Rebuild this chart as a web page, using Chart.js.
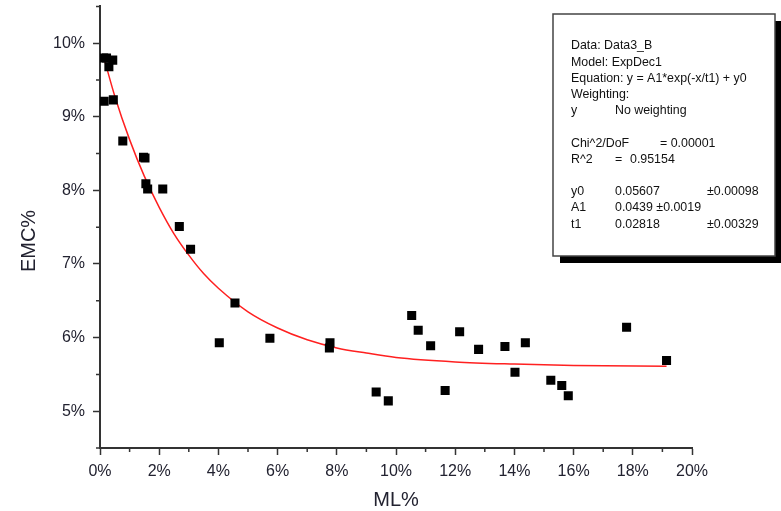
<!DOCTYPE html>
<html>
<head>
<meta charset="utf-8">
<script src="https://cdn.jsdelivr.net/npm/chart.js@4/dist/chart.umd.min.js"></script>
<style>
  html, body { margin: 0; padding: 0; background: #ffffff; }
  #c { display: block; }
</style>
</head>
<body>
<canvas id="c" width="781" height="511"></canvas>
<script>
// ---- data ----
const mlX = [0.12, 0.22, 0.30, 0.43, 0.14, 0.45, 0.77, 1.47, 1.52, 1.55, 1.61, 2.12, 2.68, 3.06,
             4.03, 4.56, 5.74, 7.75, 7.77, 9.33, 9.74, 10.53, 10.75, 11.17, 11.66, 12.15, 12.79,
             13.68, 14.02, 14.37, 15.23, 15.60, 15.82, 17.79, 19.14];
const emcY = [9.80, 9.80, 9.68, 9.77, 9.21, 9.23, 8.67, 8.45, 8.44, 8.09, 8.02, 8.02, 7.51, 7.20,
              5.93, 6.47, 5.99, 5.86, 5.93, 5.26, 5.14, 6.30, 6.10, 5.89, 5.28, 6.08, 5.84,
              5.88, 5.53, 5.93, 5.42, 5.35, 5.21, 6.14, 5.69];
const fitX = [0.14, 0.5, 1, 1.5, 2, 2.5, 3, 3.5, 4, 5, 6, 7, 8, 9, 10, 12, 14, 16, 19.14];
const fitY = [9.79, 9.28, 8.69, 8.19, 7.77, 7.41, 7.12, 6.87, 6.67, 6.35, 6.13, 5.97, 5.86, 5.79, 5.73, 5.67, 5.64, 5.62, 5.61];
const xTicks = [0, 2, 4, 6, 8, 10, 12, 14, 16, 18, 20];
const yTicks = [5, 6, 7, 8, 9, 10];
const xMinor = [1, 3, 5, 7, 9, 11, 13, 15, 17, 19];
const yMinor = [4.5, 5.5, 6.5, 7.5, 8.5, 9.5, 10.5];
const xTitle = 'ML%';
const yTitle = 'EMC%';
const boxLines = [
  ['Data: Data3_B'],
  ['Model: ExpDec1'],
  ['Equation: y = A1*exp(-x/t1) + y0'],
  ['Weighting:'],
  ['y', 'No weighting'],
  [],
  ['Chi^2/DoF', '', '= 0.00001'],
  ['R^2', '=', '0.95154'],
  [],
  ['y0', '0.05607', '', '\u00b10.00098'],
  ['A1', '0.0439 \u00b10.0019'],
  ['t1', '0.02818', '', '\u00b10.00329']
];

const FONT = '"Liberation Sans", Arial, sans-serif';
const AXIS_COLOR = '#333333';
const LABEL_COLOR = '#222230';

const minorTicks = {
  id: 'minorTicks',
  afterDraw(chart) {
    const ctx = chart.ctx;
    const xs = chart.scales.x, ys = chart.scales.y;
    ctx.save();
    ctx.strokeStyle = AXIS_COLOR;
    ctx.lineWidth = 1.5;
    ctx.beginPath();
    xMinor.forEach(v => {
      const px = xs.getPixelForValue(v);
      ctx.moveTo(px, chart.chartArea.bottom);
      ctx.lineTo(px, chart.chartArea.bottom + 4);
    });
    yMinor.forEach(v => {
      const py = ys.getPixelForValue(v);
      ctx.moveTo(chart.chartArea.left, py);
      ctx.lineTo(chart.chartArea.left - 4, py);
    });
    ctx.stroke();
    ctx.restore();
  }
};

const axisTitles = {
  id: 'axisTitles',
  afterDraw(chart) {
    const ctx = chart.ctx;
    ctx.save();
    ctx.fillStyle = LABEL_COLOR;
    ctx.font = '20px ' + FONT;
    ctx.textAlign = 'center';
    ctx.textBaseline = 'middle';
    ctx.fillText(xTitle, 396, 500);
    ctx.translate(29, 241);
    ctx.rotate(-Math.PI / 2);
    ctx.fillText(yTitle, 0, 0);
    ctx.restore();
  }
};

const statsBox = {
  id: 'statsBox',
  afterDraw(chart) {
    const ctx = chart.ctx;
    const L = 553, T = 14, W = 222, H = 242;
    ctx.save();
    ctx.fillStyle = '#000000';
    ctx.fillRect(L + 7, T + 7, W, H);
    ctx.fillStyle = '#ffffff';
    ctx.fillRect(L, T, W, H);
    ctx.strokeStyle = '#444444';
    ctx.lineWidth = 1.5;
    ctx.strokeRect(L, T, W, H);
    ctx.fillStyle = '#111111';
    ctx.font = '12.4px ' + FONT;
    ctx.textBaseline = 'middle';
    ctx.textAlign = 'left';
    const cols = [571, 615, 660, 707];
    boxLines.forEach((parts, i) => {
      const y = 46 + i * 16.2;
      parts.forEach((txt, j) => {
        if (!txt) return;
        let x = cols[j];
        if (parts[0] === 'R^2' && j === 2) x = 630;
        ctx.fillText(txt, x, y);
      });
    });
    ctx.restore();
  }
};

new Chart(document.getElementById('c'), {
  type: 'scatter',
  data: {
    datasets: [
      {
        label: 'Data3_B',
        data: mlX.map((x, i) => ({ x: x, y: emcY[i] })),
        pointStyle: 'rect',
        pointRadius: 6.4,
        pointBorderWidth: 0,
        backgroundColor: '#000000',
        borderColor: '#000000'
      },
      {
        label: 'ExpDec1 fit',
        data: fitX.map((x, i) => ({ x: x, y: fitY[i] })),
        showLine: true,
        pointRadius: 0,
        borderColor: '#ff2020',
        borderWidth: 1.5,
        cubicInterpolationMode: 'monotone'
      }
    ]
  },
  options: {
    responsive: false,
    animation: false,
    layout: { padding: { left: 0, right: 89, top: 5, bottom: 0 } },
    plugins: { legend: { display: false }, tooltip: { enabled: false } },
    scales: {
      x: {
        type: 'linear',
        min: 0, max: 20,
        afterBuildTicks: a => { a.ticks = xTicks.map(v => ({ value: v })); },
        afterFit: s => { s.height = 63; s.paddingLeft = 0; s.paddingRight = 0; },
        ticks: {
          callback: v => v + '%',
          font: { family: FONT, size: 16 },
          color: LABEL_COLOR,
          padding: 7,
          maxRotation: 0,
          autoSkip: false
        },
        grid: { drawOnChartArea: false, drawTicks: true, tickLength: 7, tickColor: AXIS_COLOR, tickWidth: 1.5 },
        border: { color: AXIS_COLOR, width: 2 }
      },
      y: {
        type: 'linear',
        min: 4.5, max: 10.5,
        afterBuildTicks: a => { a.ticks = yTicks.map(v => ({ value: v })); },
        afterFit: s => { s.width = 100; s.paddingTop = 0; s.paddingBottom = 0; },
        ticks: {
          callback: v => v + '%',
          font: { family: FONT, size: 16 },
          color: LABEL_COLOR,
          padding: 8,
          autoSkip: false
        },
        grid: { drawOnChartArea: false, drawTicks: true, tickLength: 7, tickColor: AXIS_COLOR, tickWidth: 1.5 },
        border: { color: AXIS_COLOR, width: 2 }
      }
    }
  },
  plugins: [minorTicks, axisTitles, statsBox]
});
</script>
</body>
</html>
